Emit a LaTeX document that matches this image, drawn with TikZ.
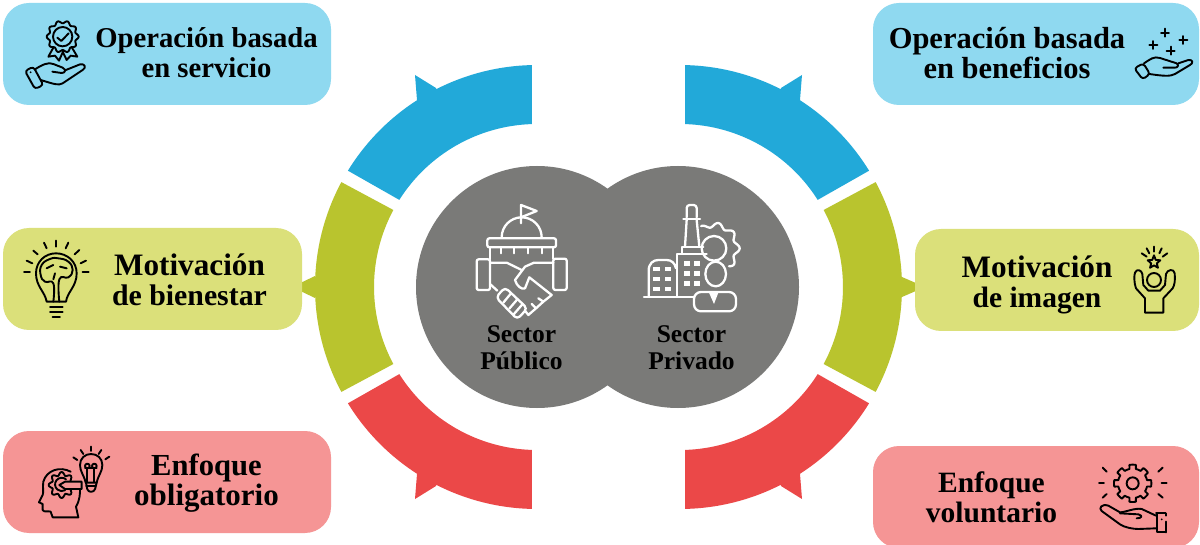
\documentclass[tikz,border=0pt]{standalone}
\usepackage{fontspec}
\setmainfont[Ligatures=NoCommon]{Liberation Serif}
\definecolor{cblue}{HTML}{22A9D9}
\definecolor{colive}{HTML}{B9C42E}
\definecolor{cred}{HTML}{EB4848}
\definecolor{lblue}{HTML}{8FD9F0}
\definecolor{lolive}{HTML}{DBE07A}
\definecolor{lred}{HTML}{F59595}
\definecolor{cgray}{HTML}{7A7A78}
\newcommand{\fs}[1]{\fontsize{#1}{30}\selectfont}
\tikzset{
  panel/.style={rectangle,rounded corners=26pt,inner sep=0pt,minimum height=102pt},
  lab/.style={align=center,inner sep=0pt,font=\bfseries\fontsize{29.5}{30}\selectfont,text=black},
  seclab/.style={align=center,inner sep=0pt,font=\bfseries\fontsize{25.5}{27}\selectfont,text=black},
  disc/.style={circle,fill=cgray,inner sep=0pt,minimum size=242pt},
  ico/.style={draw=black,line width=1.9pt,line cap=round,line join=round},
  wico/.style={draw=white,line width=2.3pt,line cap=round,line join=round},
}
\newcommand{\ringparts}{%
  \fill[cblue] (537,287) ++(211.6:222) arc[start angle=211.6,end angle=268.7,radius=222]
     -- ++(0,59) arc[start angle=268.2,end angle=212.3,radius=163] -- cycle;
  \fill[cblue] (415,75) -- (436,88) -- (440,100) -- (420,110) -- (417,100) -- cycle;
  \fill[colive] (537,287) ++(151.8:222) arc[start angle=151.8,end angle=208.2,radius=222]
     -- ++(28.2:59) arc[start angle=208.2,end angle=151.8,radius=163] -- cycle;
  \fill[cred] (537,287) ++(148.4:222) arc[start angle=148.4,end angle=91.3,radius=222]
     -- ++(0,-59) arc[start angle=91.8,end angle=147.7,radius=163] -- cycle;
  \fill[cred] (415,499) -- (436,486) -- (440,474) -- (420,464) -- (417,474) -- cycle;
}
\begin{document}
\begin{tikzpicture}[x=1pt,y=1pt,yscale=-1]
\useasboundingbox (0,0) rectangle (1200,545);
\fill[white] (0,0) rectangle (1200,545);
% ring
\ringparts
\begin{scope}[shift={(1217,0)},xscale=-1]\ringparts\end{scope}
\fill[colive] (315,276) -- (292,287) -- (315,298) -- (320,287) -- cycle;
\fill[colive] (902,277) -- (925,287) -- (902,297) -- (897,287) -- cycle;
% discs
\node[disc] (pub) at (537,287) {};
\node[disc] (pri) at (678,287) {};
% panels
\node[panel,fill=lblue,minimum width=328pt] (p1) at (167,54) {};
\node[panel,fill=lolive,minimum width=299pt] (p2) at (152.5,279) {};
\node[panel,fill=lred,minimum width=328pt] (p3) at (167,482) {};
\node[panel,fill=lblue,minimum width=326pt] (p4) at (1036,54) {};
\node[panel,fill=lolive,minimum width=284pt] (p5) at (1057,280) {};
\node[panel,fill=lred,minimum width=326pt] (p6) at (1036,497) {};
% labels
\node[lab,font=\bfseries\fontsize{28.7}{30}\selectfont] (t1) at (206.5,53) {Operación basada\\en servicio};
\node[lab] (t2) at (189.5,280) {{\fs{31.2}Motivación}\\{\fs{29.8}de bienestar}};
\node[lab] (t3) at (206.5,483) {{\fs{30.6}Enfoque}\\{\fs{31}obligatorio}};
\node[lab,font=\bfseries\fontsize{30.5}{30}\selectfont] (t4) at (1007,53) {Operación basada\\en beneficios};
\node[lab] (t5) at (1037,285) {{\fs{31.2}Motivación}\\de imagen};
\node[lab] (t6) at (991.5,497) {Enfoque\\voluntario};
\node[seclab] (t7) at (521.5,348) {Sector\\Público};
\node[seclab] (t8) at (691.5,348) {Sector\\Privado};
% icon: service
\begin{scope}[shift={(20,15)},scale=1/3,ico]
  \draw[shift={(128,65)}] plot[domain=0:360,samples=97,smooth] (\x:{44+4*cos(10*\x)});
  \draw (128,65) circle (29);
  \draw (112,68) -- (124,78) -- (146,55);
  \draw (100,98) -- (85,125) -- (105,122) -- (117,137) -- (130,108);
  \draw (156,98) -- (172,125) -- (152,122) -- (140,135) -- (128,110);
  \draw[rounded corners=3pt] (15,168) -- (40,155) -- (70,210) -- (45,222) -- cycle;
  \fill (32,172) circle (3);
  \draw (45,163) .. controls (65,150) and (85,140) .. (100,147) -- (128,158) .. controls (140,165) and (135,174) .. (125,174) -- (97,170);
  \draw (135,166) -- (180,148) .. controls (195,145) and (200,158) .. (188,165) -- (128,205) .. controls (115,212) and (105,208) .. (62,195);
\end{scope}
% icon: benefits
\begin{scope}[shift={(800,0)},scale=1/3,ico]
  \foreach \px/\py in {1095/98,1060/135,1112/152,1150/120}{
    \draw (\px-12,\py) -- (\px+12,\py) (\px,\py-12) -- (\px,\py+12);}
  \draw[rounded corners=3pt] (1003,205) -- (1030,190) -- (1050,222) -- (1028,238) -- cycle;
  \draw (1032,190) .. controls (1050,178) and (1062,168) .. (1080,174) -- (1130,190) .. controls (1140,198) and (1130,204) .. (1122,203) -- (1090,203);
  \draw (1135,190) -- (1165,180) .. controls (1180,178) and (1180,190) .. (1170,195) -- (1125,222) .. controls (1110,230) and (1090,228) .. (1048,222);
\end{scope}
% icon: bulb with brain
\begin{scope}[shift={(0,220)},scale=1/3,ico]
  \draw (140,245) .. controls (135,215) and (108,200) .. (108,160) .. controls (108,125) and (135,100) .. (168,100) .. controls (202,100) and (230,125) .. (230,160) .. controls (230,200) and (202,215) .. (198,245) -- cycle;
  \draw (150,262) -- (188,262) (150,276) -- (188,276) (158,290) -- (180,290);
  \foreach \ax/\ay/\bx/\by in {168/62/168/80,132/68/140/85,205/68/197/85,100/92/113/103,238/90/224/103,80/122/97/130,258/122/242/130,72/157/90/157,248/157/266/157}{
    \draw (\ax,\ay) -- (\bx,\by);}
  \draw[smooth,tension=.8] plot coordinates {(160,245) (160,190) (135,185) (122,165) (125,135) (150,117) (175,115) (205,125) (218,150) (205,172) (178,178) (178,245)};
  \draw (140,145) -- (160,135) (180,140) -- (200,145) (160,178) -- (165,160);
\end{scope}
% icon: star person
\begin{scope}[shift={(800,220)},scale=1/3,ico]
  \draw (1062,180) circle (21);
  \draw[shift={(1062,127)}] plot coordinates {(270:21) (306:9) (342:20) (18:9) (54:20) (90:9) (126:20) (162:9) (198:20) (234:9) (270:21)};
  \foreach \ax/\ay/\bx/\by in {1025/100/1040/110,1040/85/1048/100,1062/80/1062/95,1085/85/1078/100,1102/100/1088/110}{
    \draw (\ax,\ay) -- (\bx,\by);}
  \draw (1035,278) -- (1035,235) -- (1008,205) .. controls (1002,190) and (1002,165) .. (1005,158) .. controls (1010,145) and (1025,150) .. (1027,162) -- (1030,195) -- (1045,212) -- (1080,212) -- (1095,195) -- (1098,162) .. controls (1102,148) and (1122,145) .. (1124,160) .. controls (1126,180) and (1124,195) .. (1118,205) -- (1090,235) -- (1090,278) -- cycle;
\end{scope}
% icon: head with bulb
\begin{scope}[shift={(30,440)},scale=1/3,ico]
  \draw (145,232) -- (138,200) .. controls (150,180) and (150,160) .. (150,150);
  \draw (122,95) .. controls (90,78) and (50,90) .. (40,125) .. controls (37,145) and (42,155) .. (38,165) -- (27,187) -- (38,192) -- (38,210) .. controls (42,218) and (55,212) .. (62,215) -- (68,232) -- (145,232);
  \draw[shift={(95,135)}] plot[domain=0:360,samples=97,smooth] (\x:{34+5*cos(8*\x)});
  \draw (108,118) arc[start angle=-50,end angle=-300,radius=20];
  \draw[fill=lred] (155,125) -- (105,125) -- (88,135) -- (105,147) -- (155,147) -- cycle;
  \draw (167,128) .. controls (162,105) and (150,95) .. (150,75) .. controls (150,55) and (165,42) .. (183,42) .. controls (202,42) and (217,55) .. (217,75) .. controls (217,95) and (205,105) .. (200,128) -- cycle;
  \draw (168,138) -- (198,138) (172,148) .. controls (176,158) and (190,158) .. (195,148) (168,128) -- (172,148) (200,128) -- (195,148);
  \draw (172,125) -- (172,85) (193,125) -- (193,85) (165,85) -- (200,85);
  \draw (172,78) circle (7) (193,78) circle (7);
  \foreach \ax/\ay/\bx/\by in {183/20/183/33,152/30/160/42,214/30/206/42,130/52/142/60,238/50/226/58}{
    \draw (\ax,\ay) -- (\bx,\by);}
\end{scope}
% icon: gear on hand
\begin{scope}[shift={(800,425)},scale=1/3,ico]
  \draw[shift={(998,175)}] plot[domain=0:360,samples=145] (\x:{50+6*sign(cos(8*\x))});
  \draw (998,175) circle (18);
  \foreach \ax/\ay/\bx/\by in {908/128/920/140,1088/128/1075/140,897/175/912/175,1085/175/1100/175,908/218/920/207,1088/218/1075/207}{
    \draw (\ax,\ay) -- (\bx,\by);}
  \draw (1068,272) -- (1025,252) .. controls (1005,248) and (975,262) .. (960,262) -- (925,242) .. controls (905,235) and (895,250) .. (905,258) -- (960,298) .. controls (975,308) and (1000,312) .. (1015,312) -- (1068,310);
  \draw (960,265) -- (1015,268) .. controls (1030,272) and (1025,280) .. (1010,280);
  \draw (1068,265) -- (1097,265) (1072,265) -- (1072,322) -- (1097,322) (1097,265) -- (1097,272) (1097,322) -- (1097,290);
  \fill (1085,283) circle (3);
\end{scope}
% icon: government handshake
\begin{scope}[shift={(410,160)},scale=1/3,wico]
  \draw (333,190) -- (333,135) -- (380,153) -- (333,172);
  \draw (275,232) arc[start angle=180,end angle=360,radius=60];
  \draw[rounded corners=2pt] (232,262) -- (232,235) -- (438,235) -- (438,262) -- cycle;
  \draw (240,262) -- (240,298) (430,262) -- (430,296);
  \draw (272,262) -- (272,280) (313,262) -- (313,280) (353,262) -- (353,280) (395,262) -- (395,280);
  \draw[rounded corners=2pt] (200,298) rectangle (240,390);
  \draw[rounded corners=2pt] (430,296) rectangle (470,390);
  \draw (240,308) -- (290,308) -- (335,330);
  \draw (430,308) -- (372,308) -- (345,320) -- (315,360) .. controls (320,378) and (335,390) .. (345,385) -- (358,352) -- (425,405);
  \draw (240,372) -- (262,392);
  \draw (425,405) -- (400,425) -- (385,415) (400,425) -- (378,445) -- (365,432) (378,445) -- (355,465) -- (345,452);
  \draw[rounded corners=4pt] (258,412) -- (285,382) -- (352,445) -- (322,478) -- cycle;
  \draw (280,428) -- (303,400) (298,446) -- (322,418) (312,462) -- (338,432);
\end{scope}
% icon: factory and person
\begin{scope}[shift={(410,160)},scale=1/3,wico]
  \draw[rounded corners=3pt] (830,172) -- (830,135) -- (860,135) -- (860,172);
  \draw (820,177) -- (870,177);
  \draw (830,180) -- (825,260) (860,180) -- (868,260);
  \draw (815,280) -- (815,262) -- (880,262);
  \draw (800,408) -- (800,282) -- (890,282);
  \foreach \wy in {310,340,370}{
    \fill[white] (822,\wy-7) rectangle (840,\wy+7);
    \fill[white] (852,\wy-7) rectangle (870,\wy+7);}
  \draw (716,408) -- (716,332) .. controls (716,310) and (730,300) .. (745,300) -- (770,300) .. controls (785,300) and (795,310) .. (798,325);
  \foreach \wy in {328,357,387}{
    \fill[white] (730,\wy-6) rectangle (750,\wy+6);
    \fill[white] (764,\wy-6) rectangle (784,\wy+6);}
  \draw (702,411) -- (858,411);
  \draw (912,265) circle (37);
  \draw[shift={(912,265)}] plot[domain=-120:50,samples=70,smooth] (\x:{70+7*cos(9*\x)});
  \draw[fill=cgray] (917,342) ellipse (31 and 37);
  \draw[rounded corners=7pt,fill=cgray] (852,454) -- (852,396) -- (978,396) -- (978,454) -- cycle;
  \fill[white] (897,398) -- (925,398) -- (912,432) -- cycle;
\end{scope}
\end{tikzpicture}
\end{document}
